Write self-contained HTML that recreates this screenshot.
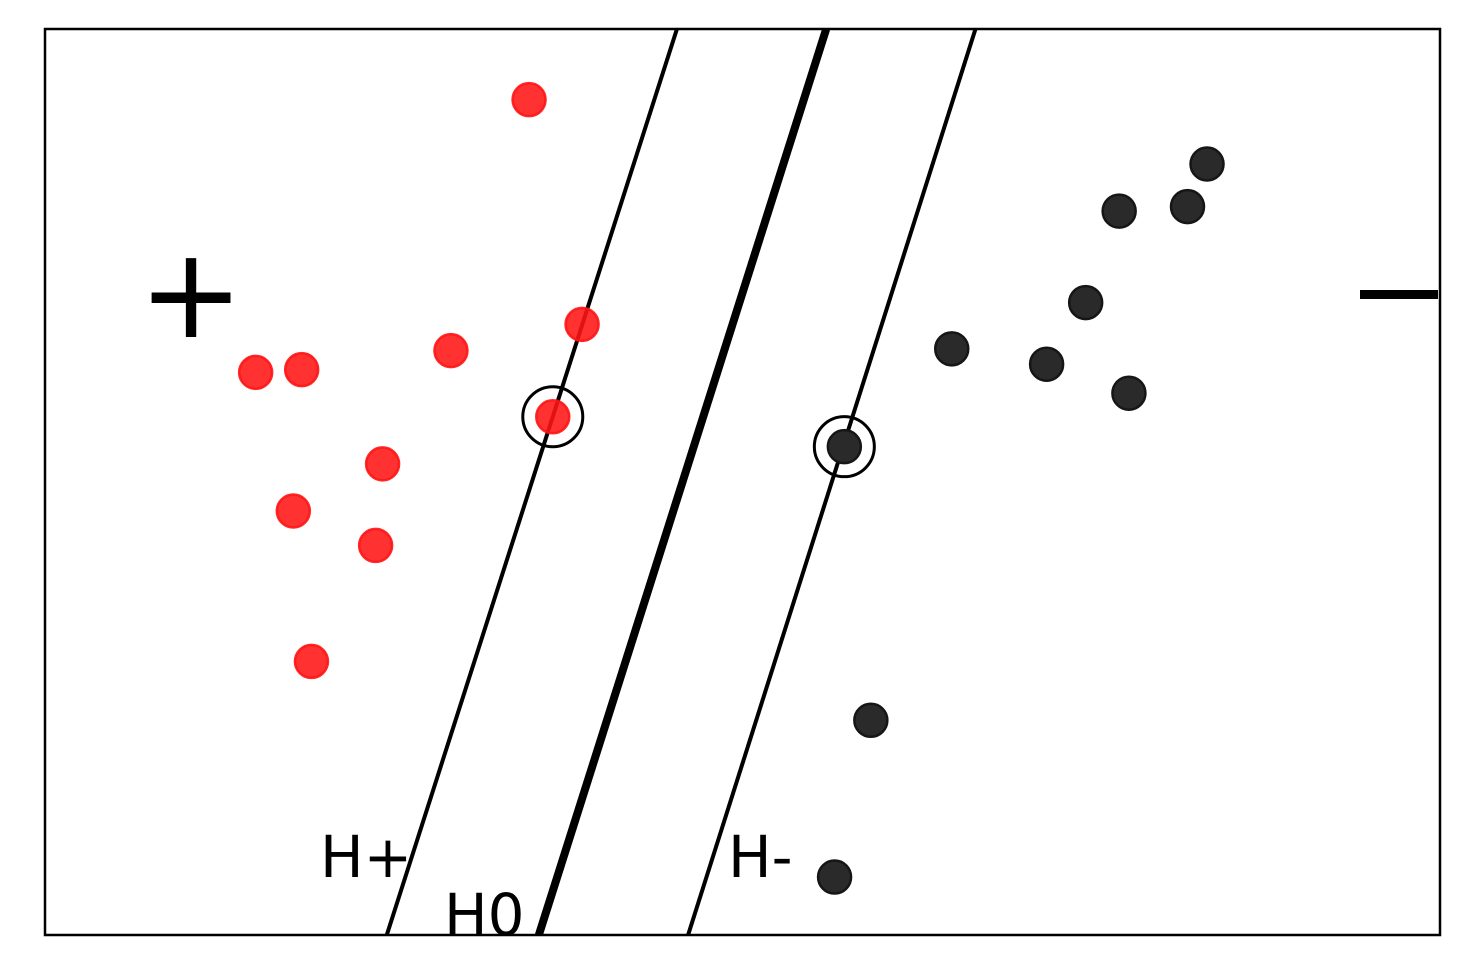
<!DOCTYPE html>
<html><head><meta charset="utf-8"><style>
body{margin:0;background:#fff}
svg{display:block;font-family:"DejaVu Sans","Liberation Sans",sans-serif}
</style></head><body>
<svg id="chart" width="1469" height="980">
<rect x="45" y="29" width="1395" height="906" fill="#fff" stroke="#000" stroke-width="2.5"/>
<g id="marks"></g>
</svg>
<script>
const posX = [3.47,3.85,2.91,1.51,1.84,3.64,2.42,1.78,2.37,1.91];
const posY = [9.22,6.74,6.45,6.21,6.24,5.72,5.20,4.68,4.30,3.02];
const negX = [8.33,7.70,8.19,7.46,6.50,7.18,7.77,5.73,5.92,5.66];
const negY = [8.51,7.99,8.04,6.98,6.47,6.30,5.98,5.39,2.37,0.64];
const lineNames = ["h-plus","h-zero","h-minus"];
const lineBottomX = [2.45,3.54,4.61];
const lineTopX = [4.53,5.60,6.67];
const lineWidths = [4,8,4];
const supportX = [3.64,5.73];
const supportY = [5.72,5.39];

const sx = v => 45 + v*139.5;
const sy = v => 935 - v*90.6;
const NS = "http://www.w3.org/2000/svg";
const g = document.getElementById('marks');
const clip = document.createElementNS(NS,'clipPath');
clip.setAttribute('id','pc');
clip.innerHTML='<rect x="45" y="29" width="1395" height="906"/>';
document.getElementById('chart').appendChild(clip);
g.setAttribute('clip-path','url(#pc)');

lineNames.forEach((n,i)=>{
  const l=document.createElementNS(NS,'line');
  l.setAttribute('x1',sx(lineBottomX[i]));l.setAttribute('y1',sy(0));
  l.setAttribute('x2',sx(lineTopX[i]));l.setAttribute('y2',sy(10));
  l.setAttribute('stroke','#000');l.setAttribute('stroke-width',lineWidths[i]);
  
  
  g.appendChild(l);
});
function dot(x,y,fill,stroke,name){
  const c=document.createElementNS(NS,'circle');
  c.setAttribute('cx',sx(x));c.setAttribute('cy',sy(y));c.setAttribute('r',16.5);
  c.setAttribute('fill',fill);c.setAttribute('stroke',stroke);c.setAttribute('stroke-width',2.5);
  
  
  g.appendChild(c);
}
posX.forEach((x,i)=>dot(x,posY[i],'rgba(255,20,20,0.88)','rgba(255,20,20,0.9)','positive-point'));
negX.forEach((x,i)=>dot(x,negY[i],'#2a2a2a','#161616','negative-point'));
supportX.forEach((x,i)=>{
  const c=document.createElementNS(NS,'circle');
  c.setAttribute('cx',sx(x));c.setAttribute('cy',sy(supportY[i]));c.setAttribute('r',30);
  c.setAttribute('fill','none');c.setAttribute('stroke','#000');c.setAttribute('stroke-width',3);
  
  
  g.appendChild(c);
});
</script>
<svg style="position:absolute;left:0;top:0" width="1469" height="980">
<text x="191" y="337" font-size="126" text-anchor="middle">+</text>
<rect x="1360" y="290" width="78" height="9" fill="#000"/>
<text x="320" y="877" font-size="58">H+</text>
<text x="444" y="935" font-size="58">H0</text>
<text x="728" y="877" font-size="58">H-</text>
</svg>
</body></html>
